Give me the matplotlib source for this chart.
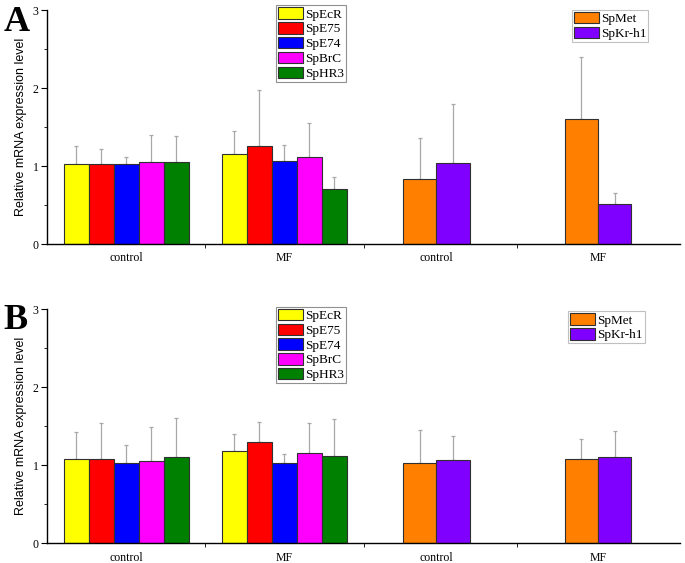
import matplotlib.pyplot as plt
from matplotlib.patches import Patch
from matplotlib.ticker import MultipleLocator, FixedLocator
import numpy as np

# gene groups and colours
genes_ecd = ['SpEcR', 'SpE75', 'SpE74', 'SpBrC', 'SpHR3']
genes_jh = ['SpMet', 'SpKr-h1']
col_ecd = ['#FFFF00', '#FF0000', '#0000FF', '#FF00FF', '#008000']
col_jh = ['#FF8000', '#8000FF']
groups = ['control', 'MF', 'control', 'MF']

# Panel A: means and upper error bar tops
a_ecd_mean = [[1.02, 1.02, 1.02, 1.05, 1.05],
              [1.16, 1.26, 1.06, 1.12, 0.71]]
a_ecd_top = [[1.26, 1.22, 1.11, 1.40, 1.39],
             [1.45, 1.98, 1.27, 1.55, 0.86]]
a_jh_mean = [[0.83, 1.04], [1.60, 0.51]]
a_jh_top = [[1.36, 1.80], [2.40, 0.65]]

# Panel B
b_ecd_mean = [[1.08, 1.08, 1.03, 1.06, 1.10],
              [1.18, 1.30, 1.03, 1.16, 1.12]]
b_ecd_top = [[1.42, 1.54, 1.26, 1.49, 1.60],
             [1.40, 1.55, 1.14, 1.54, 1.59]]
b_jh_mean = [[1.03, 1.07], [1.08, 1.11]]
b_jh_top = [[1.45, 1.38], [1.33, 1.44]]

centers = [0.5, 1.5, 2.46, 3.48]
bounds = [1.0, 2.0, 2.97]

serif = 'Liberation Serif'

fig = plt.figure(figsize=(6.85, 5.63), dpi=100)


def draw_panel(ax, ecd_mean, ecd_top, jh_mean, jh_top, leg1_y, leg2_xy):
    w5 = 0.158
    for g in range(2):
        for i in range(5):
            x = centers[g] + (i - 2) * w5
            m = ecd_mean[g][i]
            ax.bar(x, m, width=w5, color=col_ecd[i], edgecolor='#303030', linewidth=0.8, zorder=2)
            ax.errorbar(x, m, yerr=[[0], [ecd_top[g][i] - m]], color='#a8a8a8',
                        elinewidth=0.9, capsize=1.5, capthick=0.9, zorder=1)
    w2 = 0.21
    for g in range(2):
        for i in range(2):
            x = centers[g + 2] + (i - 0.5) * w2
            m = jh_mean[g][i]
            ax.bar(x, m, width=w2, color=col_jh[i], edgecolor='#303030', linewidth=0.8, zorder=2)
            ax.errorbar(x, m, yerr=[[0], [jh_top[g][i] - m]], color='#a8a8a8',
                        elinewidth=0.9, capsize=1.5, capthick=0.9, zorder=1)

    ax.set_xlim(0, 4)
    ax.set_ylim(0, 3)
    ax.spines['top'].set_visible(False)
    ax.spines['right'].set_visible(False)
    ax.spines['left'].set_linewidth(1.0)
    ax.spines['bottom'].set_linewidth(1.0)
    ax.set_xticks(centers)
    ax.set_xticklabels(groups, fontfamily=serif, fontsize=8.5)
    ax.xaxis.set_minor_locator(FixedLocator(bounds))
    ax.tick_params(axis='x', which='major', length=0, pad=6)
    ax.tick_params(axis='x', which='minor', length=3, direction='out')
    ax.yaxis.set_major_locator(MultipleLocator(1))
    ax.yaxis.set_minor_locator(MultipleLocator(0.5))
    ax.tick_params(axis='y', which='major', length=4, direction='out', labelsize=8.5, pad=2)
    ax.tick_params(axis='y', which='minor', length=2, direction='out')
    for t in ax.get_yticklabels():
        t.set_fontfamily(serif)
    ax.set_ylabel('Relative mRNA expression level', fontfamily='Liberation Sans', fontsize=9, labelpad=4)

    h1 = [Patch(facecolor=c, edgecolor='#303030', linewidth=0.8) for c in col_ecd]
    leg1 = ax.legend(h1, genes_ecd, loc='upper left', bbox_to_anchor=(0.362, leg1_y),
                     prop={'family': serif, 'size': 9.5}, frameon=True, fancybox=False,
                     edgecolor='#909090', framealpha=1, borderpad=0.15, labelspacing=0.12,
                     handlelength=1.9, handleheight=0.95, handletextpad=0.15, borderaxespad=0)
    leg1.get_frame().set_linewidth(0.8)
    ax.add_artist(leg1)
    h2 = [Patch(facecolor=c, edgecolor='#303030', linewidth=0.8) for c in col_jh]
    leg2 = ax.legend(h2, genes_jh, loc='upper left', bbox_to_anchor=leg2_xy,
                     prop={'family': serif, 'size': 9.5}, frameon=True, fancybox=False,
                     edgecolor='#c0c0c0', framealpha=1, borderpad=0.15, labelspacing=0.12,
                     handlelength=1.9, handleheight=0.95, handletextpad=0.15, borderaxespad=0)
    leg2.get_frame().set_linewidth(0.8)


axA = fig.add_axes([0.0686, 0.5666, 0.9244, 0.4156])
draw_panel(axA, a_ecd_mean, a_ecd_top, a_jh_mean, a_jh_top, 1.02, (0.829, 1.0))
axB = fig.add_axes([0.0686, 0.035, 0.9244, 0.416])
draw_panel(axB, b_ecd_mean, b_ecd_top, b_jh_mean, b_jh_top, 1.01, (0.823, 0.99))

fig.text(0.005, 0.945, 'A', fontfamily=serif, fontweight='bold', fontsize=26)
fig.text(0.005, 0.415, 'B', fontfamily=serif, fontweight='bold', fontsize=26)

fig.savefig('out.png', dpi=100)
